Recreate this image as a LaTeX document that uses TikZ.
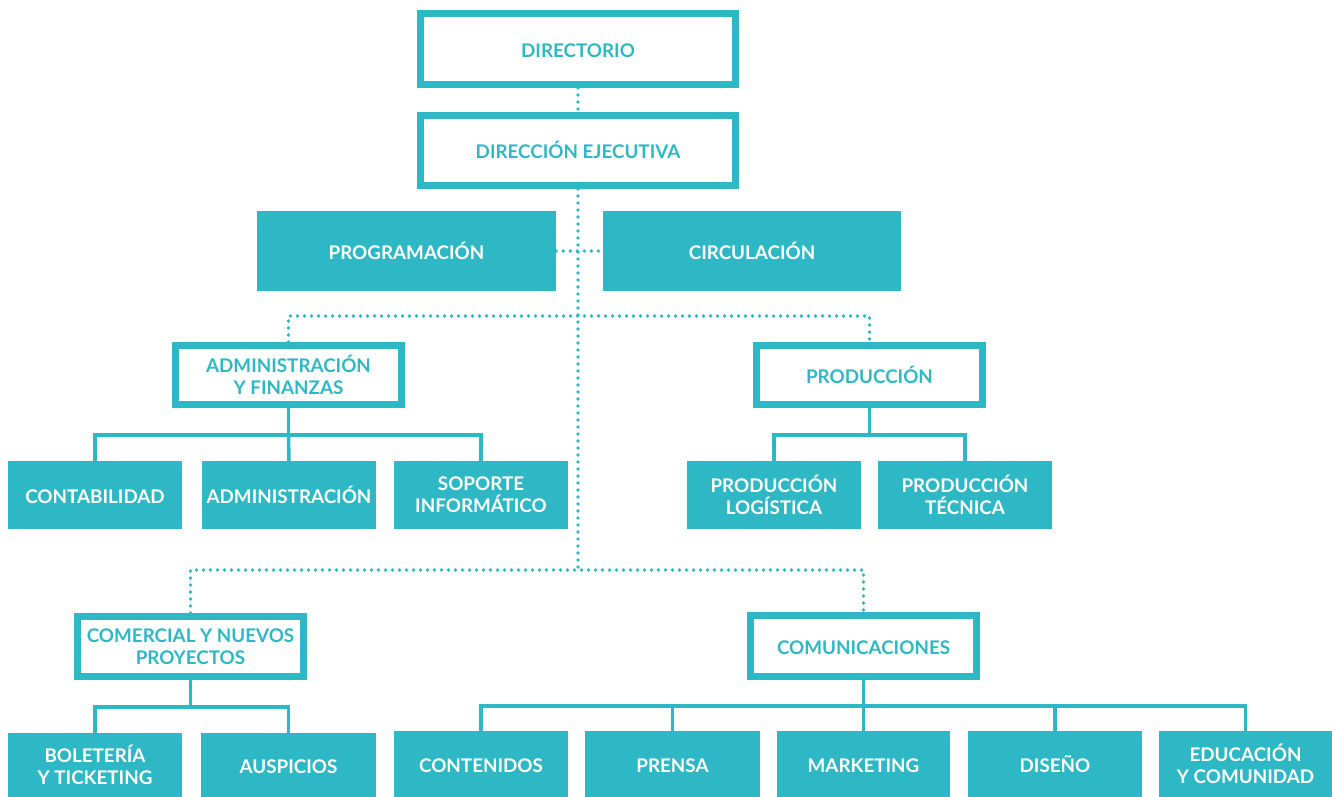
\documentclass[tikz,border=0pt]{standalone}
\usepackage{fontspec}
\setmainfont{Lato}[UprightFont=* Bold]
\definecolor{teal1}{RGB}{46,184,197}
\tikzset{
  fbox/.style={fill=teal1,text=white,align=center,inner sep=0pt,font=\fontsize{18.8}{22}\selectfont},
  obox/.style={draw=teal1,line width=7pt,fill=white,text=teal1,align=center,inner sep=0pt,font=\fontsize{18.8}{22}\selectfont},
  oneline/.style={text height=16.5pt,text depth=0pt},
  dotline/.style={teal1,line width=3.6pt,line cap=round,dash pattern=on 0pt off 7pt},
  solidline/.style={teal1,line width=3.5pt},
}
\begin{document}
\begin{tikzpicture}[x=1pt,y=-1pt]
\useasboundingbox (0,0) rectangle (1332,797);
% top
\node[obox,oneline,minimum width=315pt,minimum height=71pt] (dir) at (578,49) {DIRECTORIO};
\node[obox,oneline,minimum width=315pt,minimum height=70pt] (dej) at (578,150.5) {DIRECCIÓN EJECUTIVA};
\node[fbox,oneline,minimum width=299pt,minimum height=80pt] (prog) at (406.5,251) {PROGRAMACIÓN};
\node[fbox,oneline,minimum width=298pt,minimum height=80pt] (circ) at (752,251) {CIRCULACIÓN};
% second level
\node[obox,minimum width=226pt,minimum height=59pt] (adm) at (288.5,375) {ADMINISTRACIÓN\\Y FINANZAS};
\node[obox,oneline,minimum width=226pt,minimum height=59pt] (prod) at (869.5,375) {PRODUCCIÓN};
\node[fbox,oneline,minimum width=174pt,minimum height=68pt] (cont) at (95,495) {CONTABILIDAD};
\node[fbox,oneline,minimum width=174pt,minimum height=68pt] (admn) at (289,495) {ADMINISTRACIÓN};
\node[fbox,minimum width=174pt,minimum height=68pt] (sop) at (481,495) {SOPORTE\\INFORMÁTICO};
\node[fbox,minimum width=174pt,minimum height=68pt] (plog) at (774,495) {PRODUCCIÓN\\LOGÍSTICA};
\node[fbox,minimum width=174pt,minimum height=68pt] (ptec) at (965,495) {PRODUCCIÓN\\TÉCNICA};
% third level
\node[obox,minimum width=226pt,minimum height=60pt] (com) at (190.5,646.5) {COMERCIAL Y NUEVOS\\PROYECTOS};
\node[obox,oneline,minimum width=226pt,minimum height=61pt] (comu) at (863.5,646) {COMUNICACIONES};
\node[fbox,minimum width=174pt,minimum height=64pt] (bol) at (95,765) {BOLETERÍA\\Y TICKETING};
\node[fbox,oneline,minimum width=175pt,minimum height=64pt] (aus) at (288.5,765) {AUSPICIOS};
\node[fbox,oneline,minimum width=174pt,minimum height=66pt] (conten) at (481,764) {CONTENIDOS};
\node[fbox,oneline,minimum width=175pt,minimum height=66pt] (pren) at (672.5,764) {PRENSA};
\node[fbox,oneline,minimum width=173pt,minimum height=66pt] (mkt) at (863.5,764) {MARKETING};
\node[fbox,oneline,minimum width=174pt,minimum height=66pt] (dis) at (1055,764) {DISEÑO};
\node[fbox,minimum width=173pt,minimum height=66pt] (edu) at (1245.5,764) {EDUCACIÓN\\Y COMUNIDAD};
% junctions
\coordinate (j1) at (578,316);
\coordinate (j2) at (578,570);
\coordinate (b1) at (288.5,435);
\coordinate (b2) at (869.5,435);
\coordinate (b3) at (190.5,707);
\coordinate (b4) at (863.5,706);
% dotted connectors
\draw[dotline] (dir.south) -- (dej.north);
\draw[dotline] (dej.south) -- (j2);
\draw[dotline] (prog.east) -- (circ.west);
\draw[dotline] (adm.north) |- (j1) -| (prod.north);
\draw[dotline] (com.north) |- (j2) -| (comu.north);
% solid connectors
\draw[solidline] (adm.south) -- (b1);
\draw[solidline] (cont.north) |- (b1) -| (sop.north);
\draw[solidline] (b1) -- (admn.north);
\draw[solidline] (prod.south) -- (b2);
\draw[solidline] (plog.north) |- (b2) -| (ptec.north);
\draw[solidline] (com.south) -- (b3);
\draw[solidline] (bol.north) |- (b3) -| (aus.north);
\draw[solidline] (comu.south) -- (b4);
\draw[solidline] (conten.north) |- (b4) -| (edu.north);
\draw[solidline] (pren.north) -- (pren.north |- b4);
\draw[solidline] (mkt.north) -- (b4);
\draw[solidline] (dis.north) -- (dis.north |- b4);
\end{tikzpicture}
\end{document}
